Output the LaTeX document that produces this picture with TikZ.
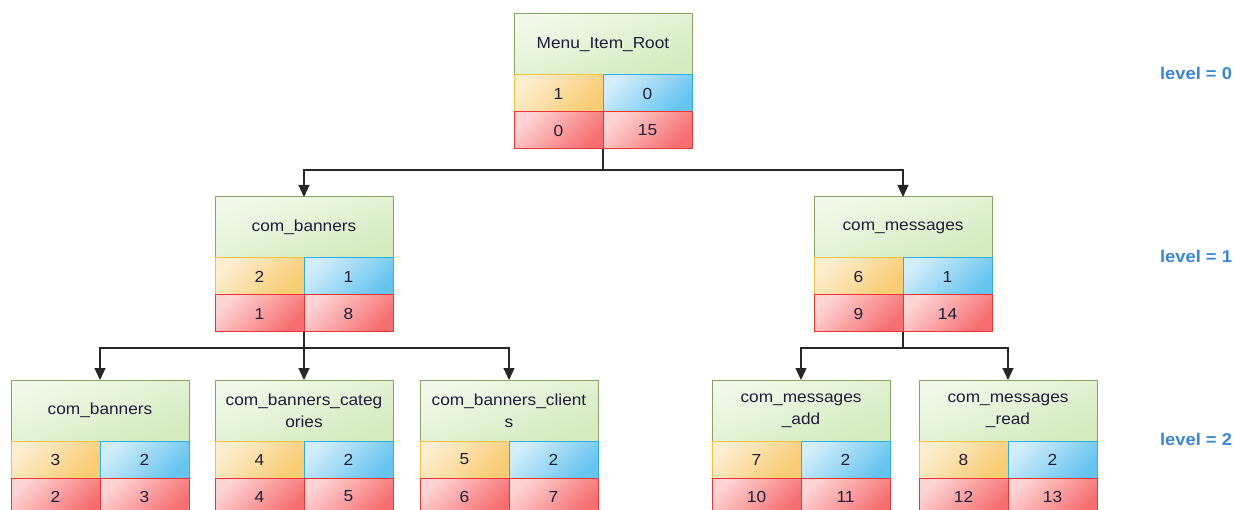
\documentclass[tikz,border=0pt]{standalone}
\usepackage{fontspec}
\setmainfont{Liberation Sans}
\newfontfamily\boxfont[FakeStretch=1.08]{Liberation Sans}
\usetikzlibrary{arrows.meta}
\definecolor{txt}{HTML}{1E1E3A}
\definecolor{gtop}{HTML}{F2F9EA}
\definecolor{gbot}{HTML}{D3EBBF}
\definecolor{gbrd}{HTML}{86A463}
\definecolor{otop}{HTML}{FDEED0}
\definecolor{obot}{HTML}{F8CC72}
\definecolor{obrd}{HTML}{F6C042}
\definecolor{btop}{HTML}{D2EEFB}
\definecolor{bbot}{HTML}{66C4EF}
\definecolor{bbrd}{HTML}{2AAEEA}
\definecolor{rtop}{HTML}{FDD4D4}
\definecolor{rbot}{HTML}{F66E70}
\definecolor{rbrd}{HTML}{EF3236}
\definecolor{lvl}{HTML}{3A86D6}
\tikzset{
  x=1pt, y=-1pt,
  box/.style={inner sep=0pt, outer sep=0pt, line width=1pt, text=txt,
    font=\boxfont\fontsize{16}{22}\selectfont, align=center},
  hdr/.style={box, draw=gbrd, top color=gtop, bottom color=gbot, shading angle=20,
    minimum width=178pt, minimum height=61pt},
  ocell/.style={box, draw=obrd, top color=otop, bottom color=obot, shading angle=45,
    minimum width=89pt, minimum height=37pt},
  bcell/.style={box, draw=bbrd, top color=btop, bottom color=bbot, shading angle=45,
    minimum width=89pt, minimum height=37pt},
  rcell/.style={box, draw=rbrd, top color=rtop, bottom color=rbot, shading angle=45,
    minimum width=89pt, minimum height=37pt},
  line/.style={line width=1.2pt, draw=black!85},
  conn/.style={line, -{Triangle[width=11pt,length=12pt]}},
  lvltext/.style={text=lvl, font=\boxfont\bfseries\fontsize{17}{20}\selectfont, inner sep=0pt}
}
\newcommand{\mnode}[8]{%
  \node[hdr, anchor=north west] (#1) at (#2,#3) {#4};
  \node[ocell, anchor=north west] (#1-a) at (#1.south west) {#5};
  \node[bcell, anchor=north east] (#1-b) at (#1.south east) {#6};
  \node[rcell, anchor=north west] (#1-c) at (#1-a.south west) {#7};
  \node[rcell, anchor=north east] (#1-d) at (#1-b.south east) {#8};
  \coordinate (#1-bot) at (#1-c.south east);
}
\begin{document}
\begin{tikzpicture}
\useasboundingbox (0,0) rectangle (1236,510);
\clip (0,0) rectangle (1236,510);
\fill[white] (0,0) rectangle (1236,510);

\mnode{root}{514}{14}{Menu\_Item\_Root}{1}{0}{0}{15}
\mnode{ban}{215}{197}{com\_banners}{2}{1}{1}{8}
\mnode{msg}{814}{197}{com\_messages}{6}{1}{9}{14}
\mnode{banA}{11}{380}{com\_banners}{3}{2}{2}{3}
\mnode{banB}{215}{380}{com\_banners\_categ\\ories}{4}{2}{4}{5}
\mnode{banC}{420}{380}{com\_banners\_client\\s}{5}{2}{6}{7}
\mnode{msgA}{712}{380}{com\_messages\\\_add}{7}{2}{10}{11}
\mnode{msgB}{919}{380}{com\_messages\\\_read}{8}{2}{12}{13}

\path (root-bot) ++(0,21) coordinate (j0);
\path (ban-bot) ++(0,16) coordinate (j1);
\path (msg-bot) ++(0,16) coordinate (j2);
\draw[line] (root-bot) -- (j0);
\draw[line] (ban-bot) -- (j1);
\draw[line] (msg-bot) -- (j2);
\draw[conn] (j0) -| (ban.north);
\draw[conn] (j0) -| (msg.north);
\draw[conn] (j1) -| (banA.north);
\draw[conn] (j1) -- (banB.north);
\draw[conn] (j1) -| (banC.north);
\draw[conn] (j2) -| (msgA.north);
\draw[conn] (j2) -| (msgB.north);

\node[lvltext] (l0) at (1196,73) {level = 0};
\node[lvltext] (l1) at (1196,256) {level = 1};
\node[lvltext] (l2) at (1196,439) {level = 2};
\end{tikzpicture}
\end{document}
